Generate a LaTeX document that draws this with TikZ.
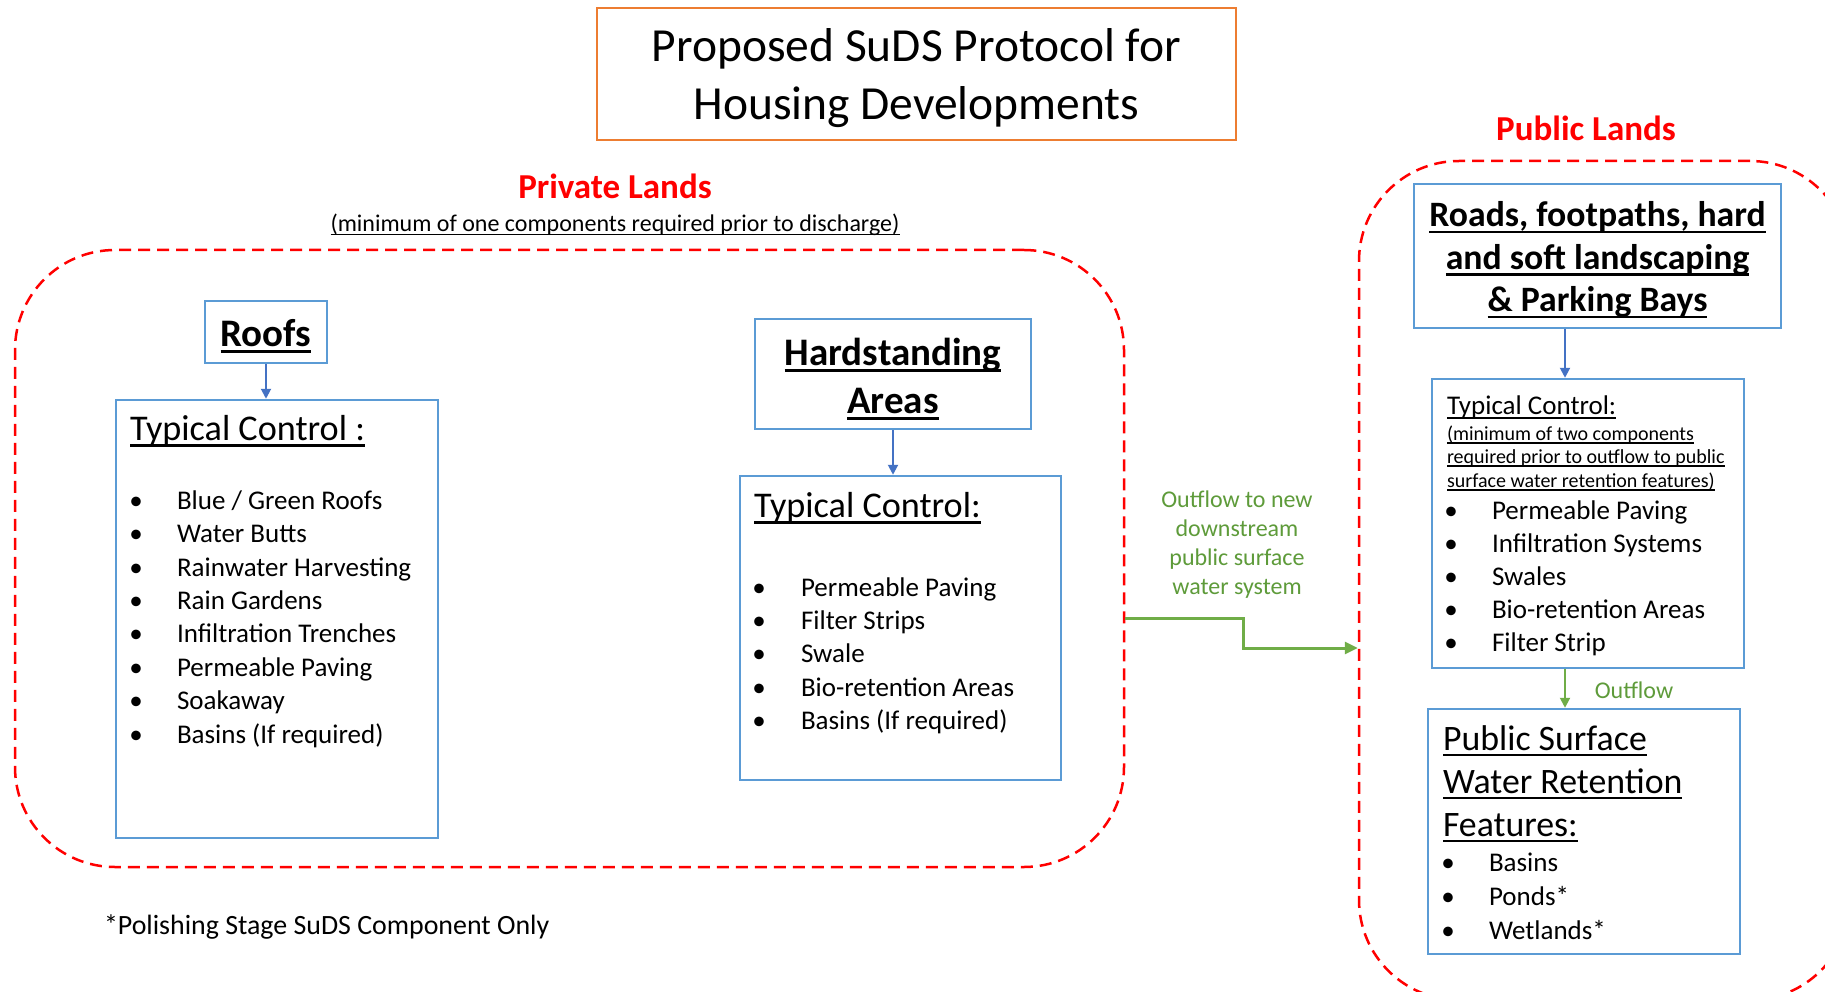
\documentclass[tikz,border=0pt]{standalone}
\usepackage{fontspec}
\setmainfont{Carlito}
\usetikzlibrary{arrows.meta}
\definecolor{boxblue}{HTML}{5B9BD5}
\definecolor{arrblue}{HTML}{4472C4}
\definecolor{ttlorange}{HTML}{ED7D31}
\definecolor{grn}{HTML}{70AD47}
\definecolor{grntxt}{HTML}{5E9B3A}
\definecolor{zred}{HTML}{FF0000}
\newcommand\myul[1]{\setbox0=\hbox{#1}\rlap{\rule[-0.17em]{\wd0}{0.065em}}\box0}
\begin{document}
\begin{tikzpicture}[x=1pt,y=-1pt,
  bluebox/.style={draw=boxblue, line width=2.5pt, inner sep=0pt},
  zone/.style={draw=zred, line width=2.5pt, dash pattern=on 12pt off 7pt, rounded corners=100pt},
  txt/.style={inner sep=0pt, outer sep=0pt, anchor=mid west},
  itemtxt/.style={txt, yshift=-7pt, font=\fontsize{27}{33}\selectfont},
  bul/.style={inner sep=0pt, outer sep=0pt, anchor=mid, yshift=-7pt, font=\fontsize{27}{33}\selectfont},
  lbl/.style={inner sep=0pt, anchor=mid, font=\bfseries\fontsize{35}{42}\selectfont, text=zred},
  barr/.style={draw=arrblue, line width=2pt, -{Triangle[length=10pt,width=10pt]}},
  garr/.style={draw=grn, line width=3pt, -{Triangle[length=13pt,width=12pt]}},
  garrthin/.style={draw=grn, line width=2pt, -{Triangle[length=10pt,width=10pt]}},
  grnlbl/.style={inner sep=0pt, text=grntxt, font=\fontsize{24}{29}\selectfont}
]
\useasboundingbox (0,0) rectangle (1825,992);
\clip (0,0) rectangle (1825,992);
\fill[white] (0,0) rectangle (1825,992);

% title
\node[draw=ttlorange, line width=2.5pt, minimum width=639pt, minimum height=132pt] (title) at (916.5,74) {};
\node[inner sep=0pt, align=center, yshift=-4pt, font=\fontsize{47.5}{58}\selectfont] (titletxt) at (title.center)
      {Proposed SuDS Protocol for\\Housing Developments};

% zones
\node[zone, minimum width=1109pt, minimum height=617pt] (priv) at (569.5,558.5) {};
\node[zone, minimum width=491pt, minimum height=839pt] (pub) at (1604.5,580.5) {};

\node[lbl] (privlbl) at (615,196) {Private Lands};
\node[inner sep=0pt, anchor=mid, font=\fontsize{24}{29}\selectfont] (privsub) at (615,229)
  {\myul{(minimum of one components required prior to discharge)}};
\node[lbl] (publbl) at (1586,138) {Public Lands};

% Roofs
\node[bluebox, minimum width=122pt, minimum height=62pt] (roofs) at (266,332) {};
\node[inner sep=0pt, yshift=-4pt, font=\bfseries\fontsize{39}{47}\selectfont] (roofstxt) at (roofs.center) {\myul{Roofs}};
\node[bluebox, minimum width=322pt, minimum height=438pt] (rtc) at (277,619) {};
\node[txt, font=\fontsize{36.2}{42}\selectfont] (rtch) at (130,438) {\myul{Typical Control :}};
\foreach \t [count=\i] in {{Blue / Green Roofs},{Water Butts},{Rainwater Harvesting},{Rain Gardens},{Infiltration Trenches},{Permeable Paving},{Soakaway},{Basins (If required)}}{
  \node[bul] (rb\i) at (136,{500+33.4*(\i-1)}) {\textbullet};
  \node[itemtxt] (ri\i) at (177,{500+33.4*(\i-1)}) {\t};
}

% Hardstanding
\node[bluebox, minimum width=276pt, minimum height=110pt] (hs) at (893,374) {};
\node[inner sep=0pt, align=center, yshift=-5pt, font=\bfseries\fontsize{39}{48}\selectfont] (hstxt) at (hs.center) {\myul{Hardstanding}\\\myul{Areas}};
\node[bluebox, minimum width=321pt, minimum height=304pt] (hstc) at (900.5,628) {};
\node[txt, font=\fontsize{36.2}{42}\selectfont] (hstch) at (754,515) {\myul{Typical Control:}};
\foreach \t [count=\i] in {{Permeable Paving},{Filter Strips},{Swale},{Bio-retention Areas},{Basins (If required)}}{
  \node[bul] (hb\i) at (759,{587+33.3*(\i-1)}) {\textbullet};
  \node[itemtxt] (hi\i) at (801,{587+33.3*(\i-1)}) {\t};
}

% outflow label
\node[grnlbl, align=center] (outlbl) at (1237,545) {Outflow to new\\downstream\\public surface\\water system};

% Roads
\node[bluebox, minimum width=367pt, minimum height=144pt] (roads) at (1597.5,256) {};
\node[inner sep=0pt, align=center, yshift=-4pt, font=\bfseries\fontsize{35.7}{42.5}\selectfont] (roadstxt) at (roads.center)
  {\myul{Roads, footpaths, hard}\\\myul{and soft landscaping}\\\myul{\& Parking Bays}};
\node[bluebox, minimum width=312pt, minimum height=289pt] (ptc) at (1588,523.5) {};
\node[txt, font=\fontsize{27}{33}\selectfont] (ptch) at (1447,412) {\myul{Typical Control:}};
\node[txt, font=\fontsize{20}{24}\selectfont] (ptcs1) at (1447,438) {\myul{(minimum of two components}};
\node[txt, font=\fontsize{20}{24}\selectfont] (ptcs2) at (1447,461) {\myul{required prior to outflow to public}};
\node[txt, font=\fontsize{20}{24}\selectfont] (ptcs3) at (1447,485) {\myul{surface water retention features)}};
\foreach \t [count=\i] in {{Permeable Paving},{Infiltration Systems},{Swales},{Bio-retention Areas},{Filter Strip}}{
  \node[bul] (pb\i) at (1451,{510+33*(\i-1)}) {\textbullet};
  \node[itemtxt] (pi\i) at (1492,{510+33*(\i-1)}) {\t};
}

% Public surface water
\node[bluebox, minimum width=312pt, minimum height=245pt] (psw) at (1584,831.5) {};
\node[txt, font=\fontsize{35.8}{43}\selectfont] (psh1) at (1443,748) {\myul{Public Surface}};
\node[txt, font=\fontsize{35.8}{43}\selectfont] (psh2) at (1443,791) {\myul{Water Retention}};
\node[txt, font=\fontsize{35.8}{43}\selectfont] (psh3) at (1443,834) {\myul{Features:}};
\foreach \t [count=\i] in {{Basins},{Ponds*},{Wetlands*}}{
  \node[bul] (sb\i) at (1448,{862+34*(\i-1)}) {\textbullet};
  \node[itemtxt] (si\i) at (1489,{862+34*(\i-1)}) {\t};
}
\node[grnlbl, anchor=mid] (outsmall) at (1634,696) {Outflow};

% footnote
\node[txt, font=\fontsize{27.9}{33}\selectfont] (foot) at (104,932) {*Polishing Stage SuDS Component Only};

% connectors
\coordinate (ax) at (1565,0);
\coordinate (g1) at (0,618);
\coordinate (gm) at (1243,648);
\draw[barr] (roofs.south) -- (roofs.south |- rtc.north);
\draw[barr] (hs.south) -- (hs.south |- hstc.north);
\draw[barr] (roads.south -| ax) -- (ptc.north -| ax);
\draw[garrthin] (ptc.south -| ax) -- (psw.north -| ax);
\draw[garr] (priv.east |- g1) -| (gm) -- (pub.west |- gm);
\end{tikzpicture}
\end{document}
